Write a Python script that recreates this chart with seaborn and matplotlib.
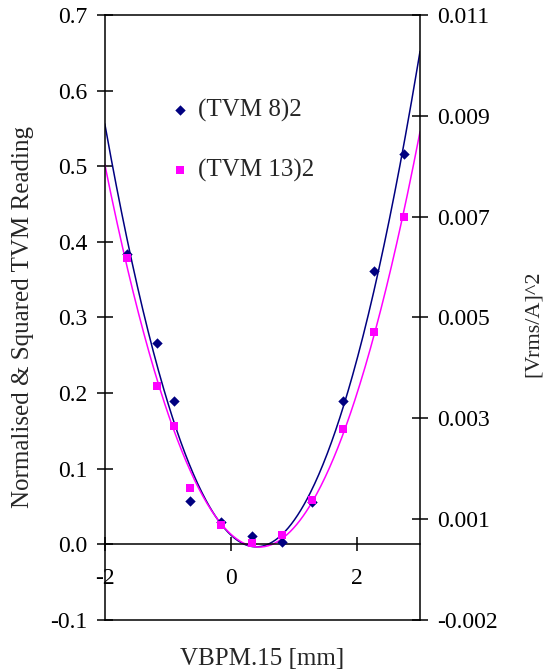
import numpy as np
import pandas as pd
import matplotlib
matplotlib.use("Agg")
import matplotlib.pyplot as plt
import seaborn as sns

# === DATA ===
VBPM_MM = [-1.64, -1.17, -0.905, -0.646, -0.154, 0.328, 0.815, 1.29, 1.78, 2.27, 2.75]
TVM8_SQ = [0.384, 0.266, 0.189, 0.057, 0.030, 0.0106, 0.003, 0.056, 0.189, 0.361, 0.516]
TVM13_SQ = [0.379, 0.209, 0.157, 0.075, 0.025, 0.002, 0.012, 0.059, 0.153, 0.281, 0.433]

SERIES = ["(TVM 8)2", "(TVM 13)2"]
X_TICKS = [-2, 0, 2]
LEFT_TICKS = [-0.1, 0.0, 0.1, 0.2, 0.3, 0.4, 0.5, 0.6, 0.7]
RIGHT_TICKS = [-0.001, 0.001, 0.003, 0.005, 0.007, 0.009, 0.011]
RIGHT_LABELS = ["-0.002", "0.001", "0.003", "0.005", "0.007", "0.009", "0.011"]

NAVY = "#000080"
MAGENTA = "#FF00FF"

sns.set_theme(style="white")
plt.rcParams["font.family"] = ["Liberation Serif", "DejaVu Serif"]
plt.rcParams["axes.linewidth"] = 1.1

df = pd.DataFrame({"x": VBPM_MM, "tvm8": TVM8_SQ, "tvm13": TVM13_SQ})

# Excel-style 2nd order polynomial trendlines
xs = np.linspace(-2, 3, 300)
fit8 = np.polyval(np.polyfit(df["x"], df["tvm8"], 2), xs)
fit13 = np.polyval(np.polyfit(df["x"], df["tvm13"], 2), xs)

fig = plt.figure(figsize=(5.43, 6.72), dpi=100)
ax = fig.add_axes([0.193, 0.0774, 0.5805, 0.9003])

sns.lineplot(x=xs, y=fit8, color=NAVY, linewidth=1.1, ax=ax, zorder=2)
sns.lineplot(x=xs, y=fit13, color=MAGENTA, linewidth=1.1, ax=ax, zorder=2)
sns.scatterplot(data=df, x="x", y="tvm8", marker="D", s=28, color=NAVY,
                linewidth=0, ax=ax, zorder=3, label=SERIES[0])
sns.scatterplot(data=df, x="x", y="tvm13", marker="s", s=40, color=MAGENTA,
                linewidth=0, ax=ax, zorder=3, label=SERIES[1])

ax.set_xlim(-2, 3)
ax.set_ylim(-0.1, 0.7)
ax.set_xticks(X_TICKS)
ax.set_xticklabels([str(t) for t in X_TICKS])
ax.set_yticks(LEFT_TICKS)
ax.set_yticklabels([f"{t:.1f}" for t in LEFT_TICKS])

ax.spines["bottom"].set_position(("data", 0))
ax.spines["top"].set_visible(False)
ax.spines["right"].set_visible(False)
for s in ax.spines.values():
    s.set_color("black")

ax.tick_params(axis="y", direction="inout", length=11, width=1.1, pad=7,
               labelsize=17, colors="black", left=True)
ax.tick_params(axis="x", direction="inout", length=10, width=1.1, pad=12,
               labelsize=17, colors="black", bottom=True)

ax.set_xlabel("VBPM.15 [mm]", fontsize=18)
ax.xaxis.set_label_coords(0.5, -0.047)
ax.set_ylabel("Normalised & Squared TVM Reading", fontsize=18)
ax.yaxis.set_label_coords(-0.225, 0.5)

leg = ax.legend(loc="upper left", bbox_to_anchor=(0.199, 0.862), frameon=False,
                fontsize=18, handlelength=1.0, handletextpad=0.2,
                labelspacing=1.5, borderpad=0, borderaxespad=0)

# right axis
ax2 = ax.twinx()
ax2.set_ylim(-0.001, 0.011)
ax2.set_yticks(RIGHT_TICKS)
ax2.set_yticklabels(RIGHT_LABELS)
ax2.spines["left"].set_visible(False)
for s in ax2.spines.values():
    s.set_color("black")
ax2.tick_params(axis="y", direction="inout", length=11, width=1.1, pad=6.5,
                labelsize=17, colors="black", right=True)
ax2.set_ylabel("[Vrms/A]^2", fontsize=16, rotation=90)
ax2.yaxis.set_label_coords(1.328, 0.49)
ax2.grid(False)
ax.grid(False)

fig.savefig("out.png", dpi=100)
